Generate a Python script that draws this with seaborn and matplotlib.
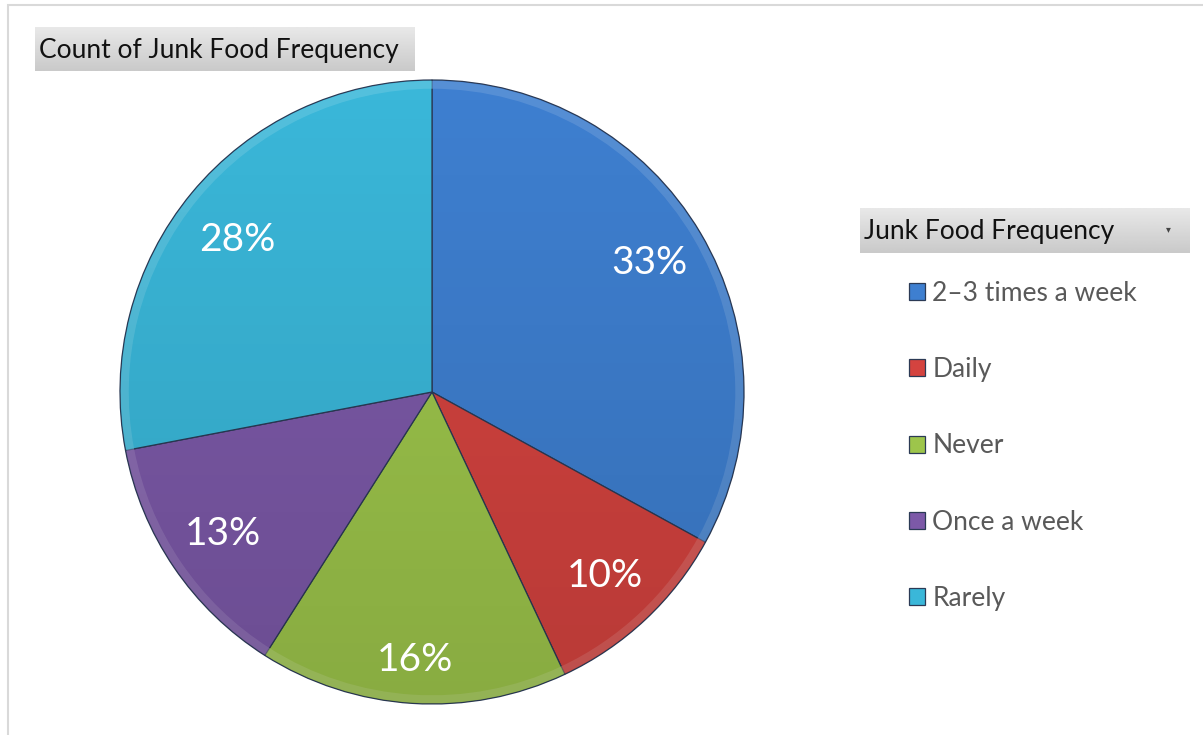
import numpy as np
import matplotlib
matplotlib.use("Agg")
import matplotlib.pyplot as plt
from matplotlib.patches import Rectangle, Circle, Wedge
import colorsys
import seaborn as sns

# Survey answers: how often people eat junk food (share of responses, %)
categories = ["2\u20133 times a week", "Daily", "Never", "Once a week", "Rarely"]
counts = [33, 10, 16, 13, 28]
slice_colors = ["#3E7FD0", "#D4433F", "#9DC54B", "#7C59A8", "#3AB7D9"]
chart_title = "Count of Junk Food Frequency"
legend_title = "Junk Food Frequency"

sns.set_theme(style="white")
plt.rcParams["font.family"] = ["Lato", "DejaVu Sans"]

W, H = 1203, 735
fig = plt.figure(figsize=(W / 100, H / 100), dpi=100)
fig.patch.set_facecolor("white")


def fx(px):
    return px / W


def fy(py):
    return 1 - py / H


# chart-area border (only the top and left edges fall inside the canvas)
fig.add_artist(Rectangle((fx(8), fy(760)), fx(1300), (760 - 5) / H,
                         transform=fig.transFigure, fill=False,
                         edgecolor="#D9D9D9", linewidth=1.5))


def header_box(x0, y0, x1, y1, text, arrow=False):
    hax = fig.add_axes([fx(x0), fy(y1), fx(x1 - x0), (y1 - y0) / H])
    grad = np.linspace(0.91, 0.79, 64).reshape(-1, 1)
    hax.imshow(grad, cmap="gray", vmin=0, vmax=1, aspect="auto",
               extent=[0, 1, 0, 1], origin="upper")
    hax.set_xlim(0, 1)
    hax.set_ylim(0, 1)
    hax.axis("off")
    hax.text(4 / (x1 - x0), 0.47, text, ha="left", va="center",
             fontsize=19, color="#111111")
    if arrow:
        hax.text(1 - 22 / (x1 - x0), 0.52, "\u25be", ha="center", va="center",
                 fontsize=7, color="#444444", family=["DejaVu Sans"])


header_box(35, 27, 415, 71, chart_title)
header_box(860, 208, 1190, 253, legend_title, arrow=True)

# pie axes: centre (432, 392) px, radius 312 px
R = 312
cx, cy = 432, 392
ax = fig.add_axes([fx(cx - R), fy(cy + R), fx(2 * R), 2 * R / H])
palette = sns.color_palette(slice_colors)

wedges, _, pct_texts = ax.pie(
    counts, colors=palette, startangle=90, counterclock=False,
    autopct="%.0f%%", pctdistance=0.81,
    wedgeprops=dict(edgecolor="#2B3A55", linewidth=0.9),
    textprops=dict(color="white", fontsize=28),
)


def lighter(c, amount):
    h, l, s = colorsys.rgb_to_hls(*c)
    return colorsys.hls_to_rgb(h, min(1.0, l + amount), s)


# light bevel rim around each slice
for w, c in zip(wedges, palette):
    rim = Wedge((0, 0), 0.997, w.theta1, w.theta2, width=0.025,
                facecolor=lighter(c, 0.10), edgecolor="none", alpha=0.6)
    rim.set_zorder(1.2)
    ax.add_patch(rim)

# soft top-to-bottom shading across the whole disc
shade = np.zeros((256, 2, 4))
t = np.linspace(0, 1, 256)
shade[:, :, 3] = (0.13 * t)[:, None]
img = ax.imshow(shade, extent=[-1, 1, -1, 1], origin="upper", aspect="auto", zorder=1.5)
img.set_clip_path(Circle((0, 0), 1.0, transform=ax.transData))
for w in wedges:
    w.set_zorder(1)
for tx in pct_texts:
    tx.set_zorder(3)

# the "Never" label sits a little further out in the slice,
# the "Rarely" label a touch lower
x, y = pct_texts[2].get_position()
pct_texts[2].set_position((x * 0.86 / 0.81, y * 0.86 / 0.81))
x, y = pct_texts[4].get_position()
pct_texts[4].set_position((x, y - 0.03))

ax.set_xlim(-1, 1)
ax.set_ylim(-1, 1)
ax.axis("off")

leg = ax.legend(wedges, categories, loc="upper left",
                bbox_to_anchor=(fx(909), fy(281)), bbox_transform=fig.transFigure,
                frameon=False, fontsize=19, labelspacing=1.94,
                handlelength=0.62, handleheight=0.62, handletextpad=0.27,
                borderpad=0, borderaxespad=0)
for txt in leg.get_texts():
    txt.set_color("#595959")

fig.savefig("out.png", dpi=100, facecolor="white")
